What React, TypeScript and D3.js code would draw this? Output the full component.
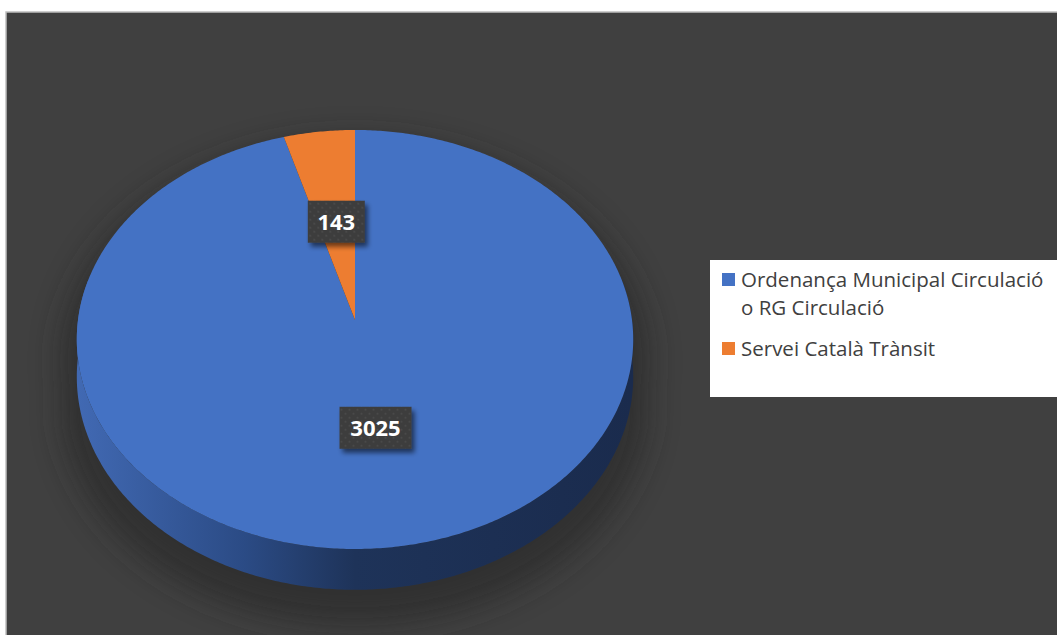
import React, { useEffect } from 'react';
import * as d3 from 'd3';

// data
const categories = ['Ordenança Municipal Circulació o RG Circulació', 'Servei Català Trànsit'];
const legendLines = [['Ordenança Municipal Circulació', 'o RG Circulació'], ['Servei Català Trànsit']];
const values = [3025, 143];
const colors = ['#4472C4', '#ED7D31'];

const W = 1057;
const H = 635;

// simple perspective projection of the pie disk
const cx = 355;
const cy = 320;
const A = 277;
const B = 207.7;
const K = 0.093;
const DEPTH = 37;

function proj(a: number, f = 1, dz = 0): [number, number] {
    const u = f * Math.sin(a);
    const v = -f * Math.cos(a);
    const s = 1 / (1 - K * v);
    return [cx + A * u * s, cy + B * v * s + dz * s];
}

function arcPoints(a0: number, a1: number, f = 1, dz = 0) {
    const n = Math.max(2, Math.ceil(Math.abs(a1 - a0) / 0.01));
    return d3.range(n + 1).map(i => proj(a0 + (a1 - a0) * i / n, f, dz));
}

const line = d3.line();

function App() {
    useEffect(() => {
        document.body.style.margin = '0';
    }, []);

    const arcs = d3.pie<number>().sort(null).startAngle(0).endAngle(2 * Math.PI)(values);

    // side wall, front half only
    const sides = arcs.map(d => {
        const a0 = Math.max(d.startAngle, Math.PI / 2 - 0.2);
        const a1 = Math.min(d.endAngle, 1.5 * Math.PI + 0.2);
        if (a1 <= a0) return null;
        const top = arcPoints(a0, a1);
        const bottom = arcPoints(a0, a1, 1, DEPTH).reverse();
        return line([...top, ...bottom]) + 'Z';
    });

    const tops = arcs.map(d => line([proj(0, 0), ...arcPoints(d.startAngle, d.endAngle)]) + 'Z');

    const silhouette = line([
        ...arcPoints(-Math.PI / 2 - 0.2, Math.PI / 2 + 0.2),
        ...arcPoints(Math.PI / 2 + 0.2, 1.5 * Math.PI - 0.2, 1, DEPTH)
    ]) + 'Z';

    const labels = arcs.map(d => {
        const mid = (d.startAngle + d.endAngle) / 2;
        const [x, y] = proj(mid, 0.5);
        const txt = String(d.data);
        return { x, y, txt, w: 15 * txt.length + 12 };
    });

    return (
        <svg width={W} height={H} style={{ display: 'block' }}>
            <defs>
                <linearGradient id="sideGrad" gradientUnits="userSpaceOnUse" x1={cx - A} x2={cx + A} y1={0} y2={0}>
                    <stop offset="0%" stopColor="#4169b3" />
                    <stop offset="30%" stopColor="#2b4b85" />
                    <stop offset="50%" stopColor="#1e3359" />
                    <stop offset="100%" stopColor="#1a2b4d" />
                </linearGradient>
                <filter id="pieShadow" x="-30%" y="-30%" width="160%" height="160%">
                    <feGaussianBlur stdDeviation="14" />
                </filter>
                <filter id="boxShadow" x="-30%" y="-30%" width="160%" height="160%">
                    <feGaussianBlur in="SourceAlpha" stdDeviation="2.5" />
                    <feOffset dx="3" dy="4" result="b" />
                    <feComponentTransfer><feFuncA type="linear" slope="0.55" /></feComponentTransfer>
                    <feMerge>
                        <feMergeNode />
                        <feMergeNode in="SourceGraphic" />
                    </feMerge>
                </filter>
                <pattern id="dots" width="8" height="8" patternUnits="userSpaceOnUse">
                    <rect width="8" height="8" fill="#3c3c3c" />
                    <circle cx="2" cy="2" r="1.1" fill="#4b4b4b" />
                    <circle cx="6" cy="6" r="1.1" fill="#4b4b4b" />
                </pattern>
            </defs>

            <rect x={0} y={0} width={W} height={H} fill="#ffffff" />
            <rect x={6} y={12} width={W} height={H} fill="#404040" stroke="#bfbfbf" strokeWidth={1.5} />

            {/* soft shadow under the pie */}
            <path d={silhouette} fill="#262626" opacity={0.6} filter="url(#pieShadow)"
                transform={`translate(${cx},${cy + 20}) scale(1.06) translate(${-cx},${-cy})`} />

            {sides.map((p, i) => p && <path key={'s' + i} d={p} fill="url(#sideGrad)" />)}
            {tops.map((p, i) => <path key={'t' + i} d={p} fill={colors[i]} />)}

            {labels.map((l, i) => (
                <g key={'l' + i} transform={`translate(${l.x},${l.y})`}>
                    <rect x={-l.w / 2} y={-21} width={l.w} height={42} fill="url(#dots)" filter="url(#boxShadow)" />
                    <text textAnchor="middle" dy="0.36em" fill="#ffffff" fontFamily="'Open Sans', sans-serif"
                        fontWeight="bold" fontSize={22}>{l.txt}</text>
                </g>
            ))}

            {/* legend */}
            <g>
                <rect x={710} y={260} width={W - 710} height={137} fill="#ffffff" />
                {categories.map((c, i) => {
                    const y0 = i === 0 ? 273 : 342;
                    return (
                        <g key={c}>
                            <rect x={722} y={y0} width={13} height={13} fill={colors[i]} />
                            <text x={741} y={y0 + 14} fill="#404040" fontFamily="'Open Sans', sans-serif" fontSize={20.5}>
                                {legendLines[i].map((t, j) => (
                                    <tspan key={j} x={741} dy={j === 0 ? 0 : 28}>{t}</tspan>
                                ))}
                            </text>
                        </g>
                    );
                })}
            </g>
        </svg>
    );
}

export default App;
